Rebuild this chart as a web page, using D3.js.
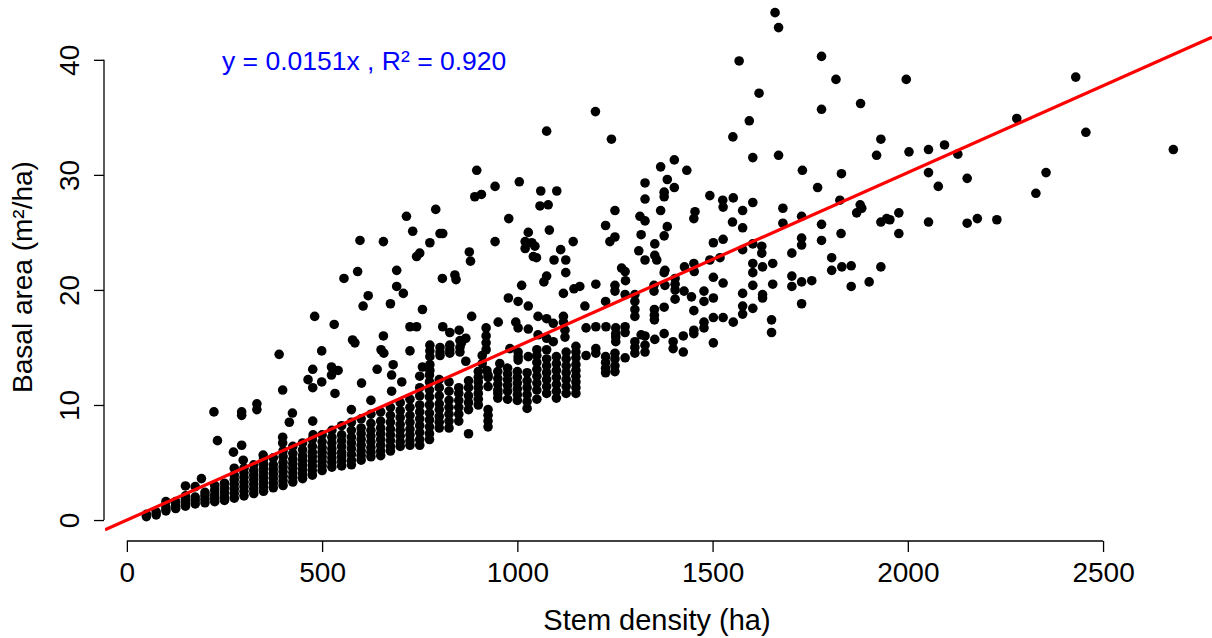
<!DOCTYPE html>
<html><head><meta charset="utf-8">
<script src="https://cdn.jsdelivr.net/npm/d3@7"></script>
<style>
body{margin:0;background:#fff}
svg{display:block}
text{font-family:"Liberation Sans",Arial,Helvetica,sans-serif}
</style>
</head><body>
<svg id="chart" width="1212" height="638"></svg>
<script>
// ---- tick labels / text ----
const xTicks = [0, 500, 1000, 1500, 2000, 2500];
const yTicks = [0, 10, 20, 30, 40];
const xTitle = "Stem density (ha)";
const yTitle = "Basal area (m²/ha)";
const eqLabel = "y = 0.0151x , R² = 0.920";
const slope = 0.0151;

// ---- dense band: stem density column -> basal area values ----
const bandColumns = [
  [50, [0.3, 0.5]],
  [75, [0.45, 0.7]],
  [100, [0.8, 1.1, 1.6]],
  [125, [1.0, 1.3, 1.6]],
  [150, [1.2, 1.5, 1.8, 2.1, 2.96]],
  [175, [1.4, 1.7, 2.0, 2.9]],
  [200, [1.5, 1.8, 2.1, 2.4]],
  [225, [1.6, 1.9, 2.2, 2.6, 3.0]],
  [250, [1.7, 2.0, 2.4, 2.8, 3.2]],
  [275, [1.9, 2.3, 2.7, 3.1, 3.5, 3.9, 4.5]],
  [300, [2.1, 2.5, 2.9, 3.3, 3.7, 4.1, 4.5]],
  [325, [2.3, 2.7, 3.1, 3.5, 3.9, 4.3, 4.8]],
  [350, [2.5, 2.9, 3.3, 3.7, 4.1, 4.5, 4.9, 5.3]],
  [375, [2.8, 3.2, 3.6, 4.0, 4.4, 4.8, 5.4]],
  [400, [3.0, 3.4, 3.8, 4.2, 4.6, 5.0, 5.5, 6.0]],
  [425, [3.3, 3.7, 4.1, 4.5, 4.9, 5.3, 5.8, 6.4]],
  [450, [3.6, 4.0, 4.4, 4.8, 5.2, 5.6, 6.1, 6.7]],
  [475, [3.9, 4.3, 4.7, 5.1, 5.5, 5.9, 6.4, 7.0]],
  [500, [4.3, 4.7, 5.1, 5.5, 5.9, 6.3, 6.8, 7.4]],
  [525, [4.6, 5.0, 5.4, 5.8, 6.2, 6.7, 7.2, 7.8]],
  [550, [4.7, 5.1, 5.5, 5.9, 6.4, 6.9, 7.4, 8.2]],
  [575, [4.8, 5.2, 5.7, 6.2, 6.7, 7.2, 7.8, 8.5]],
  [600, [5.2, 5.6, 6.0, 6.5, 7.0, 7.5, 8.0, 8.8]],
  [625, [5.5, 5.9, 6.3, 6.8, 7.3, 7.8, 8.4, 9.2, 10.4]],
  [650, [5.6, 6.0, 6.5, 7.0, 7.5, 8.0, 8.6, 9.4]],
  [675, [6.0, 6.4, 6.9, 7.4, 7.9, 8.5, 9.1, 9.8]],
  [700, [6.4, 6.8, 7.3, 7.8, 8.3, 8.9, 9.5, 10.2]],
  [725, [6.5, 6.9, 7.4, 7.9, 8.5, 9.1, 9.8, 10.5]],
  [750, [6.5, 7.0, 7.6, 8.2, 8.8, 9.4, 10.0, 10.8, 11.5, 12.5]],
  [775, [7.0, 7.5, 8.1, 8.7, 9.3, 10.0, 10.7, 11.3, 12.0, 12.6]],
  [800, [8.0, 8.5, 9.0, 9.6, 10.1, 10.8, 11.5, 12.2]],
  [825, [8.0, 8.6, 9.2, 9.8, 10.4, 11.2, 12.0]],
  [850, [8.6, 9.2, 9.8, 10.4, 11.0, 11.5]],
  [875, [7.5, 9.6, 10.2, 10.8, 11.5, 12.1]],
  [900, [10.0, 10.5, 11.0, 11.5, 12.0, 12.4, 12.9]],
  [925, [8.1, 8.6, 9.1, 9.6, 11.6, 12.4, 12.6]],
  [950, [10.6, 11.0, 11.3, 11.8, 12.3, 12.9]],
  [975, [10.5, 11.2, 11.7, 12.2, 12.7, 13.2]],
  [1000, [10.4, 10.9, 11.4, 11.9, 12.4, 12.9]],
  [1025, [9.7, 10.3, 10.9, 11.5, 12.1, 12.8]],
  [1050, [10.5, 11.3, 11.9, 12.5, 13.1, 13.7, 14.3, 14.8]],
  [1075, [11.0, 11.6, 12.2, 12.8, 13.4, 14.0]],
  [1100, [10.6, 11.2, 11.8, 12.4, 13.0, 13.6, 14.2]],
  [1125, [11.0, 11.6, 12.2, 12.8, 13.4, 14.0, 14.6]],
  [1150, [11.0, 11.5, 12.0, 12.5, 13.0, 13.5, 14.1, 14.6, 15.1]]
];

// ---- scattered points [stem density, basal area] ----
const scatterLow = [
  [191,3.6],[223,9.4],[232,6.9],[273,5.9],[294,9.4],[294,9.1],[294,6.5],[298,5.2],[333,10.1],[333,9.6],[349,5.65],
  [390,14.4],[399,11.3],[399,7.2],[399,6.7],[416,8.5],[424,9.3],[464,12.2],[476,13.1],[476,11.5],[476,8.6],[477,7.4],
  [481,17.7],[499,14.7],[499,12],[524,13.3],[524,12.6],[541,13],[531,17],[533,11],[556,21],[575,9.6],[578,15.65],
  [584,15.4],[591,21.6],[597,24.3],[601,11.9],[605,18.6],[618,19.5],[641,13.1],[651,14.8],[657,16],[657,24.2],
  [658,14.5],[675,18.8],[678,12.6],[678,11.2],[682,13.5],[691,21.7],[691,20.3],[704,12],[708,19.7],[716,26.4],
  [725,16.8],[725,14.7],[732,25.1],[742,16.8],[742,22.9],[750,23.2],[757,18.3],[757,13.3],[776,24.1],[776,15.2],
  [776,14.7],[776,14.2],[776,13.5],[776,13.0],[791,27],[802,24.9],[809,24.9],[802,15],[802,14.6],[802,14.3],
  [808,21],[809,16.8],[827,16.3],[827,15.2],[827,14.8],[827,14.5],[840,21.3],[843,20.9],[851,16.5],[853,15.6],
  [853,15.0],[853,14.6],[857,15.4],[868,15.8],[868,13.8],[877,23.3],[880,22.5],[883,17.7],[891,28.1],[896,30.4],
  [908,28.3],[910,14.3],[910,13.6],[920,16.7],[920,16.0],[920,15.4],[920,14.8],[922,13.0],[943,29],[943,24.2],
  [951,17.2],[955,13.6],[977,19.3],[978,26.2],[981,14.9],[996,17.2]
];
const scatterMid = [
  [1002,19],[1002,16.7],[1002,14.6],[1002,14.2],[1002,13.9],[1005,29.4],[1011,20.4],[1020,24.2],[1020,23.6],
  [1028,25],[1028,18.6],[1028,16.6],[1028,14.2],[1037,24.1],[1041,22.9],[1045,23.8],[1049,22.8],[1053,17.7],
  [1053,16.1],[1058,27.3],[1060,28.6],[1068,20.7],[1075,33.8],[1075,21.2],[1075,17.5],[1075,15.8],[1075,14.8],
  [1079,27.4],[1082,25.2],[1092,17.1],[1092,15.5],[1094,22.6],[1101,28.6],[1111,23.5],[1118,19.7],[1118,17.7],
  [1118,17.2],[1122,16.5],[1122,15.9],[1124,22.6],[1124,21.5],[1143,24.2],[1145,20.1],[1160,20.3],[1173,18.6],
  [1176,16.7],[1176,14.3],[1200,35.5],[1201,20.5],[1201,16.8],[1201,14.9],[1201,14.5],[1226,25.6],[1226,19],
  [1227,16.8],[1226,14.2],[1226,13.7],[1226,13.2],[1226,12.8],[1237,24.2],[1241,33.1],[1250,26.9],[1250,24.6],
  [1250,20.4],[1250,19.9],[1250,14.5],[1250,14],[1250,13.4],[1250,12.9],[1252,16.7],[1252,16.2],[1252,15.9],
  [1252,15.5],[1267,21.9],[1276,21.6],[1277,20.8],[1276,19.6],[1276,16.8],[1276,16.3],[1276,14.1],[1301,19.6],
  [1301,19],[1301,18.3],[1301,17.7],[1301,15.5],[1301,15.0],[1301,14.5],[1311,23.4],[1314,26.4],[1317,24.8],
  [1317,16.1],[1327,29.3],[1327,27.9],[1327,26],[1327,22.6],[1327,16],[1327,15.2],[1327,14.6],[1350,20.4],
  [1350,19.9],[1351,18.3],[1351,17.8],[1351,17.4],[1352,24],[1352,23],[1352,15.7],[1357,22.6],[1367,30.7],
  [1367,26.9],[1376,28.5],[1376,28.1],[1376,24.7],[1376,21.5],[1376,18.5],[1376,16.2],[1378,21.7],[1378,20.4],
  [1384,29.6],[1384,25.5],[1399,15.5],[1399,14.9],[1402,31.3],[1402,28.9],[1404,21],[1404,20.5],[1404,20],
  [1404,19.2],[1425,16],[1425,14.6],[1427,19.9],[1428,22],[1434,30.4],[1446,19.4],[1452,26.2],[1452,22.3],
  [1452,18.2],[1452,16.5],[1452,16.2],[1453,21.6],[1455,26.8],[1478,19.9],[1478,19],[1478,17.2],[1478,16.7],
  [1493,28.2],[1493,22.6]
];
const scatterHigh = [
  [1502,24.1],[1502,21.1],[1502,19.3],[1502,17.6],[1502,15.4],[1519,22.8],[1526,27.8],[1527,27.2],[1527,24.4],
  [1527,20.6],[1527,17.6],[1551,25.9],[1552,33.3],[1553,28],[1553,17.2],[1568,39.9],[1577,26.9],[1577,25.4],
  [1577,23.5],[1577,19.7],[1577,18.6],[1577,17.9],[1594,34.7],[1603,31.5],[1603,27.6],[1603,24],[1603,22.3],
  [1603,21.5],[1603,20.4],[1603,18.4],[1619,37.1],[1626,23.8],[1626,23.2],[1628,22],[1628,19.6],[1628,19.3],
  [1651,17.4],[1651,16.3],[1654,22.3],[1654,20.5],[1660,44.1],[1669,42.8],[1669,31.7],[1680,27.1],[1680,25.8],
  [1703,23.2],[1703,21.2],[1703,20.3],[1728,26.4],[1728,24.5],[1728,23.9],[1728,20.7],[1728,18.8],[1730,30.4],
  [1754,20.8],[1769,28.9],[1779,40.3],[1779,35.7],[1779,25.7],[1779,24.3],[1805,22.8],[1805,21.7],[1816,38.3],
  [1826,27.8],[1829,24.9],[1830,30.1],[1831,22],[1855,22.1],[1855,20.3],[1869,26.7],[1878,27.4],[1879,36.2],
  [1882,27.1],[1901,20.7],[1920,31.7],[1931,33.1],[1931,25.9],[1931,22],[1946,26.2],[1954,26.1],[1977,26.7],
  [1977,24.9],[1996,38.3],[2003,32],[2053,32.2],[2053,30.2],[2053,25.9],[2078,29],[2094,32.6],[2128,31.8],
  [2152,29.7],[2152,25.8],[2178,26.2],[2228,26.1],[2279,34.9],[2328,28.4],[2354,30.2],[2430,38.5],[2456,33.7],
  [2680,32.2]
];

// ---- build ----
const points = [];
bandColumns.forEach(([sd, vals]) => vals.forEach(v => points.push([sd, v])));
scatterLow.concat(scatterMid, scatterHigh).forEach(p => points.push(p));

const svg = d3.select("#chart");
const x = d3.scaleLinear().domain([-56, 2779]).range([105, 1212]);
const y = d3.scaleLinear().domain([-1.04, 45.2]).range([532, 0]);

svg.append("defs").append("clipPath").attr("id", "plotclip")
  .append("rect").attr("x", 105).attr("y", 0).attr("width", 1107).attr("height", 532);

const TICKFONT = 28;
const TITLEFONT = 29;

// points
svg.append("g").selectAll("circle").data(points).join("circle")
  .attr("cx", d => x(d[0])).attr("cy", d => y(d[1])).attr("r", 4.8).attr("fill", "#000");

// regression line
const dom = x.domain();
svg.append("line").attr("clip-path", "url(#plotclip)")
  .attr("x1", x(dom[0])).attr("y1", y(slope * dom[0]))
  .attr("x2", x(dom[1])).attr("y2", y(slope * dom[1]))
  .attr("stroke", "#ff0000").attr("stroke-width", 3.2);

// x axis
const gx = svg.append("g").attr("transform", "translate(0,541)")
  .call(d3.axisBottom(x).tickValues(xTicks).tickSize(11).tickPadding(10).tickFormat(d3.format("d")));
gx.select(".domain").remove();
gx.append("line").attr("x1", x(xTicks[0])).attr("x2", x(xTicks[xTicks.length - 1]))
  .attr("stroke", "#000").attr("stroke-width", 1.3);
gx.selectAll(".tick line").attr("stroke", "#000").attr("stroke-width", 1.3);
gx.selectAll(".tick text").attr("font-size", TICKFONT).attr("fill", "#000")
  .attr("font-family", "Liberation Sans, Arial, sans-serif").attr("dy", "0.71em");

// y axis
const gy = svg.append("g").attr("transform", "translate(104,0)")
  .call(d3.axisLeft(y).tickValues(yTicks).tickSize(10).tickFormat(d3.format("d")));
gy.select(".domain").remove();
gy.append("line").attr("y1", y(yTicks[0])).attr("y2", y(yTicks[yTicks.length - 1]))
  .attr("stroke", "#000").attr("stroke-width", 1.3);
gy.selectAll(".tick line").attr("stroke", "#000").attr("stroke-width", 1.3);
gy.selectAll(".tick text").attr("font-size", TICKFONT).attr("fill", "#000")
  .attr("font-family", "Liberation Sans, Arial, sans-serif")
  .attr("x", null).attr("dy", null).attr("text-anchor", "middle")
  .attr("transform", "translate(-25,0) rotate(-90)");

// titles
svg.append("text").attr("x", 657).attr("y", 630).attr("text-anchor", "middle")
  .attr("font-size", TITLEFONT).attr("fill", "#000").text(xTitle);
svg.append("text").attr("transform", "translate(32,277) rotate(-90)").attr("text-anchor", "middle")
  .attr("font-size", TITLEFONT - 1).attr("fill", "#000").text(yTitle);

// equation
svg.append("text").attr("x", 222).attr("y", 70).attr("font-size", 26.5).attr("fill", "#0000ff").text(eqLabel);
</script>
</body></html>
